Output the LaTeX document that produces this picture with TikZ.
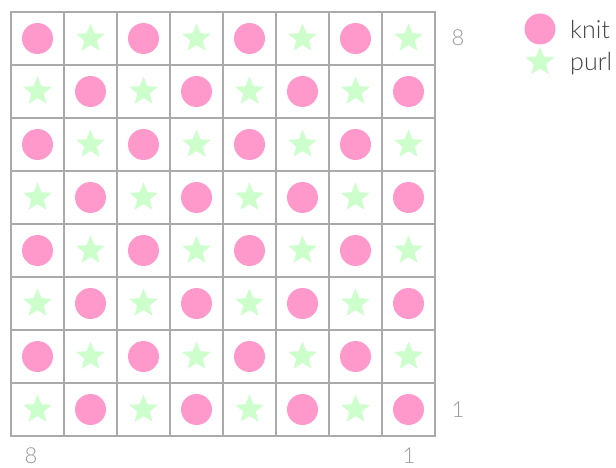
\documentclass[tikz,border=0pt]{standalone}
\usepackage{fontspec}
\setmainfont{Lato}[UprightFont=* Light]
\usetikzlibrary{shapes.geometric}
\definecolor{knitpink}{HTML}{FF99CC}
\definecolor{purlgreen}{HTML}{CCFFCC}
\definecolor{gridgray}{HTML}{AAAAAA}
\definecolor{labelgray}{HTML}{9A9A9A}
\definecolor{legtext}{HTML}{444444}
\begin{document}
\begin{tikzpicture}[x=1pt,y=-1pt,
  cellbox/.style={draw=gridgray, line width=1.5pt, minimum size=53pt, inner sep=0pt, outer sep=0pt},
  knitdot/.style={circle, fill=knitpink, minimum size=31pt, inner sep=0pt},
  purlstar/.style={star, star points=5, star point ratio=2.3, fill=purlgreen, minimum size=30pt, inner sep=0pt},
  numlabel/.style={text=labelgray, font=\fontsize{22}{24}\selectfont, inner sep=0pt},
  legendlabel/.style={text=legtext, font=\fontsize{25}{28}\selectfont, anchor=west, inner sep=0pt}]
\useasboundingbox (0,0) rectangle (616,468);
\fill[white] (0,0) rectangle (616,468);
\foreach \r in {0,...,7} {
  \foreach \c in {0,...,7} {
    \node[cellbox] (c-\r-\c) at ({11+53*\c+26.5},{12+53*\r+26.5}) {};
    \pgfmathtruncatemacro{\parity}{mod(\r+\c,2)}
    \ifnum\parity=0
      \node[knitdot] (s-\r-\c) at (c-\r-\c.center) {};
    \else
      \node[purlstar] (s-\r-\c) at (c-\r-\c.center) {};
    \fi
  }
}
\node[numlabel] (rtop) at (458,38) {8};
\node[numlabel] (rbot) at (458,410) {1};
\node[numlabel] (cleft) at (31,456) {8};
\node[numlabel] (cright) at (409,456) {1};
\node[knitdot] (legknit) at (540,29) {};
\node[purlstar] (legpurl) at (540,62) {};
\node[legendlabel] (knittext) at (570,30) {knit};
\node[legendlabel] (purltext) at (570,64) {purl};
\end{tikzpicture}
\end{document}
